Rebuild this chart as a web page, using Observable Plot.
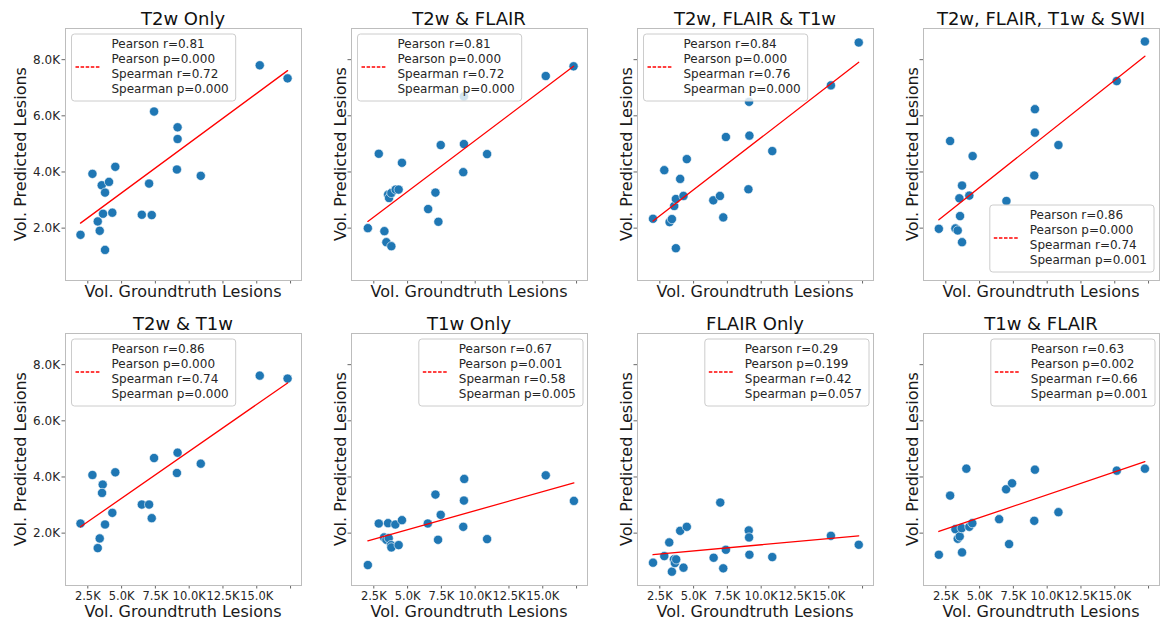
<!DOCTYPE html>
<html><head><meta charset="utf-8">
<script src="https://cdn.jsdelivr.net/npm/d3@7"></script>
<script src="https://cdn.jsdelivr.net/npm/@observablehq/plot@0.6"></script>
<style>
body{margin:0;background:#fff;}
#wrap{position:relative;width:1164px;height:624px;overflow:hidden;background:#fff;font-family:"DejaVu Sans",sans-serif;}
#wrap svg{position:absolute;}
</style></head><body><div id="wrap"></div>
<script>
// ---- data ----
const titles = ["T2w Only","T2w & FLAIR","T2w, FLAIR & T1w","T2w, FLAIR, T1w & SWI","T2w & T1w","T1w Only","FLAIR Only","T1w & FLAIR"];

const gt_T2w = [1961,2843,3235,3382,3529,3627,3775,3775,4069,4314,4534,6495,7034,7230,7402,9142,9142,9093,10858,15221,17280];
const pred_T2w = [1761,3933,2239,1905,3527,2513,3265,1224,3647,2549,4184,2477,3587,2465,6153,5592,5174,4088,3862,7800,7334];

const gt_T2wFlair = [2059,2868,3284,3431,3799,3554,3627,3799,4118,4338,4583,6520,7059,7279,7451,9118,9167,9167,10882,15221,17279];
const pred_T2wFlair = [2000,4649,1893,1499,1356,3193,3074,3253,3372,3372,4327,2680,3265,2227,4959,3993,4995,6690,4637,7418,7764];

const gt_T2wFlairT1w = [1998,2831,3223,3395,3566,3689,3689,4007,4252,4498,6458,6949,7194,7390,9056,9105,9130,10821,15159,17218];
const pred_T2wFlairT1w = [2334,4064,2215,2322,2788,3038,1284,3754,3146,4458,2990,3146,2382,5246,3384,6499,5294,4745,7084,8611];

const gt_All = [1985,2819,3211,3382,3554,3701,3505,3701,4240,4485,6985,9044,9093,9093,10833,15147,17230];
const pred_All = [1976,5103,1988,1917,2430,1499,3062,3516,3158,4566,2967,3874,5401,6236,4959,7239,8647];

const gt_T2wT1w = [1961,2843,3382,3235,3603,3554,3775,4314,4534,6495,7034,7230,7402,9142,9093,10858,15221,17280];
const pred_T2wT1w = [2343,4071,1811,1467,3728,3432,2308,2722,4166,3018,3018,2533,4675,4864,4142,4473,7609,7503];

const gt_T1w = [2059,2868,3260,3431,3603,3554,3775,3799,4093,4338,4583,6495,7059,7255,7451,9118,9167,9191,10882,15221,17304];
const pred_T1w = [864,2343,1846,1763,1822,2355,1574,1491,2308,1574,2462,2343,3373,1763,2651,2225,3160,3929,1787,4059,3148];

const gt_Flair = [1998,2831,3198,3395,3542,3615,3713,4007,4252,4498,6482,6973,7194,7390,9081,9105,9130,10821,15159,17218];
const pred_Flair = [947,1183,1669,627,1065,935,1065,2083,769,2225,1124,3089,746,1408,2095,1846,1231,1148,1905,1586];

const gt_T1wFlair = [1985,2819,3211,3382,3529,3676,3701,4020,4240,4461,6446,6961,7402,7181,9044,9093,10833,15147,17230];
const pred_T1wFlair = [1231,3337,2142,1799,1882,2178,1314,4296,2225,2355,2497,3562,3775,1609,2438,4260,2746,4225,4296];

// regression line: predicted value at the smallest and largest groundtruth volume
const fitStart = [2179,2239,2251,2298,2225,1728,1231,2059];
const fitEnd   = [7609,7764,7907,8122,7349,3787,1905,4544];

const pearsonR  = ["0.81","0.81","0.84","0.86","0.86","0.67","0.29","0.63"];
const pearsonP  = ["0.000","0.000","0.000","0.000","0.000","0.001","0.199","0.002"];
const spearmanR = ["0.72","0.72","0.76","0.74","0.74","0.58","0.42","0.66"];
const spearmanP = ["0.000","0.000","0.000","0.001","0.000","0.005","0.057","0.001"];
const legendLoc = ["upper left","upper left","upper left","lower right","upper left","upper right","upper right","upper right"];

const xTicks = [2500,5000,7500,10000,12500,15000,17500];
const xTickLabels = ["2.5K","5.0K","7.5K","10.0K","12.5K","15.0K",""];
const yTicks = [2000,4000,6000,8000];
const yTickLabels = ["2.0K","4.0K","6.0K","8.0K"];

const xLabel = "Vol. Groundtruth Lesions";
const yLabel = "Vol. Predicted Lesions";

// ---- layout ----
const gtSets = [gt_T2w,gt_T2wFlair,gt_T2wFlairT1w,gt_All,gt_T2wT1w,gt_T1w,gt_Flair,gt_T1wFlair];
const predSets = [pred_T2w,pred_T2wFlair,pred_T2wFlairT1w,pred_All,pred_T2wT1w,pred_T1w,pred_Flair,pred_T1wFlair];

const colLeft = [65,351,637,923];
const rowTop = [28,333];
const FW = 236, FH = 252;
const ML = 50, MR = 10, MT = 5, MB = 25;
const xDomain = [850,18310];
const yDomain = [135,9110];
const font = "DejaVu Sans";
const wrap = document.getElementById("wrap");

for (let i = 0; i < 8; i++) {
  const col = i % 4, row = Math.floor(i / 4);
  const fl = colLeft[col], ft = rowTop[row];
  const xs = gtSets[i], ys = predSets[i];
  const pts = xs.map((x, j) => ({x, y: ys[j]}));
  const [x0, x1] = d3.extent(xs);
  const fit = [{x: x0, y: fitStart[i]}, {x: x1, y: fitEnd[i]}];
  const plot = Plot.plot({
    width: ML + FW + MR, height: MT + FH + MB,
    marginLeft: ML, marginRight: MR, marginTop: MT, marginBottom: MB,
    x: {domain: xDomain}, y: {domain: yDomain},
    style: {background: "transparent", overflow: "visible", fontFamily: font, color: "#262626"},
    marks: [
      Plot.axisX({ticks: xTicks, tickSize: 3.5, tickPadding: 2.5, fontSize: 11.5, stroke: "#666",
        tickFormat: row === 1 ? (d => xTickLabels[xTicks.indexOf(d)]) : (() => ""), label: null}),
      Plot.axisY({ticks: yTicks, tickSize: 3.5, tickPadding: 2, fontSize: 12, stroke: "#666",
        tickFormat: col === 0 ? (d => yTickLabels[yTicks.indexOf(d)]) : (() => ""), label: null}),
      Plot.dot(pts, {x: "x", y: "y", r: 4.6, fill: "#1f77b4", stroke: "white", strokeWidth: 0.6}),
      Plot.line(fit, {x: "x", y: "y", stroke: "#ff0000", strokeWidth: 1.3}),
      Plot.frame({stroke: "#bdbdbd", strokeWidth: 1})
    ]
  });
  plot.style.left = (fl - ML) + "px";
  plot.style.top = (ft - MT) + "px";
  wrap.appendChild(plot);
}

// overlay for titles, axis labels, legends
const ov = d3.select(wrap).append("svg").attr("width", 1164).attr("height", 624)
  .style("left", "0px").style("top", "0px").attr("font-family", font);

for (let i = 0; i < 8; i++) {
  const col = i % 4, row = Math.floor(i / 4);
  const fl = colLeft[col], ft = rowTop[row];
  // title
  ov.append("text").attr("x", fl + FW / 2).attr("y", ft - 3).attr("text-anchor", "middle")
    .attr("font-size", 18).attr("fill", "#111").text(titles[i]);
  // x label
  ov.append("text").attr("x", fl + FW / 2).attr("y", row === 0 ? ft + FH + 17 : ft + FH + 32)
    .attr("text-anchor", "middle").attr("font-size", 16).attr("fill", "#1a1a1a").text(xLabel);
  // y label
  const bx = col === 0 ? fl - 39 : fl - 5;
  ov.append("text").attr("transform", `translate(${bx},${ft + FH / 2}) rotate(-90)`)
    .attr("text-anchor", "middle").attr("font-size", 16).attr("fill", "#1a1a1a").text(yLabel);

  // legend
  const lines = ["Pearson r=" + pearsonR[i], "Pearson p=" + pearsonP[i], "Spearman r=" + spearmanR[i], "Spearman p=" + spearmanP[i]];
  const g = ov.append("g");
  const rect = g.append("rect").attr("rx", 3).attr("ry", 3).attr("fill", "white").attr("fill-opacity", 0.8)
    .attr("stroke", "#cccccc").attr("stroke-width", 1);
  let tw = 0;
  lines.forEach((s, k) => {
    const t = g.append("text").attr("x", 40).attr("y", 14.3 + k * 14.8).attr("font-size", 12).attr("fill", "#262626").text(s);
    tw = Math.max(tw, t.node().getComputedTextLength());
  });
  g.append("line").attr("x1", 4).attr("x2", 28).attr("y1", 33).attr("y2", 33)
    .attr("stroke", "#ff0000").attr("stroke-width", 1.4).attr("stroke-dasharray", "3.5,1.6");
  const w = 40 + tw + 7, h = 67;
  rect.attr("width", w).attr("height", h);
  let lx, ly;
  if (legendLoc[i] === "upper left") { lx = fl + 6.5; ly = ft + 6; }
  else if (legendLoc[i] === "upper right") { lx = fl + FW - 4 - w; ly = ft + 6; }
  else { lx = fl + FW - 5 - w; ly = ft + FH - 8 - h; }
  g.attr("transform", `translate(${lx},${ly})`);
}
</script>
</body></html>
